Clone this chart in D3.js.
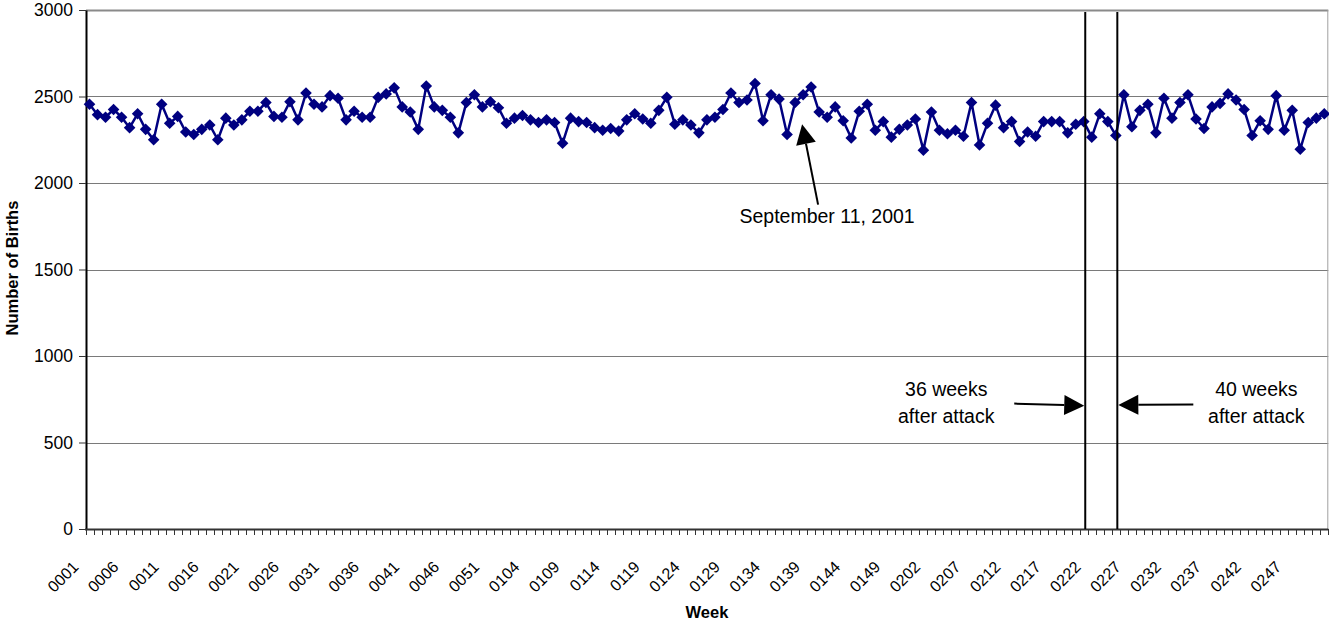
<!DOCTYPE html>
<html><head><meta charset="utf-8">
<script src="https://cdn.jsdelivr.net/npm/d3@7"></script>
<style>
body{margin:0;background:#fff}
svg{display:block}
text{font-family:"Liberation Sans",Arial,sans-serif;fill:#000}
</style>
</head><body><svg id="c" width="1329" height="624"></svg>
<script>
// ---- data ----
const years = ["00", "01", "02"];
const weeksPerYear = [52, 52, 51];
const weeks = [];
years.forEach((yr, k) => { for (let w = 1; w <= weeksPerYear[k]; w++) weeks.push(yr + String(w).padStart(2, "0")); });

const births = [
  2455,2395,2380,2425,2380,2320,2400,2310,2250,2455,
  2345,2385,2295,2280,2310,2335,2250,2375,2335,2365,
  2415,2415,2465,2385,2380,2470,2365,2520,2455,2440,
  2505,2490,2365,2415,2380,2380,2495,2515,2550,2440,
  2410,2310,2560,2440,2420,2380,2290,2465,2510,2440,
  2470,2435,2345,2375,2390,2365,2350,2365,2350,2230,
  2375,2355,2350,2320,2305,2315,2300,2365,2400,2370,
  2345,2420,2495,2340,2365,2335,2290,2365,2380,2425,
  2520,2465,2480,2575,2360,2510,2485,2280,2465,2510,
  2555,2410,2380,2440,2360,2260,2415,2455,2305,2355,
  2265,2310,2335,2370,2190,2410,2305,2285,2305,2270,
  2465,2220,2345,2450,2320,2355,2240,2295,2270,2355,
  2355,2355,2290,2340,2355,2265,2400,2355,2275,2510,
  2325,2420,2455,2290,2490,2375,2465,2510,2370,2315,
  2440,2460,2515,2480,2425,2275,2360,2310,2505,2305,
  2420,2195,2350,2375,2400
];

const yTicks = [0, 500, 1000, 1500, 2000, 2500, 3000];
const tickLabels = weeks.filter((d, i) => i % 5 === 0);
const markerWeeks = ["0221", "0225"];
const markerLabels = [["36 weeks", "after attack"], ["40 weeks", "after attack"]];
const attackWeek = "0137";
const attackLabel = "September 11, 2001";
const xTitle = "Week";
const yTitle = "Number of Births";

// ---- chart ----
const svg = d3.select("#c");
const pLeft = 85.5, pRight = 1328.3, pTop = 10, pBottom = 529;
const x = d3.scaleBand().domain(weeks).range([pLeft, pRight]).padding(0);
const cx = d => x(d) + x.bandwidth() / 2;
const y = d3.scaleLinear().domain([0, 3000]).range([pBottom, pTop]);
const navy = "#000080";

// gridlines
svg.append("g").selectAll("line").data(yTicks.filter(t => t > 0)).join("line")
  .attr("x1", 86).attr("x2", pRight)
  .attr("y1", d => Math.round(y(d)) + 0.5).attr("y2", d => Math.round(y(d)) + 0.5)
  .attr("stroke", d => d === 3000 ? "#8a8a8a" : "#7a7a7a")
  .attr("stroke-width", d => d === 3000 ? 2 : 1);
// right border
svg.append("line").attr("x1", pRight - 0.5).attr("x2", pRight - 0.5).attr("y1", pTop).attr("y2", pBottom)
  .attr("stroke", "#a0a0a0").attr("stroke-width", 1);

// y axis
const yAxis = svg.append("g").attr("transform", "translate(86,0)")
  .call(d3.axisLeft(y).tickValues(yTicks).tickSize(7).tickSizeOuter(0).tickPadding(6).tickFormat(d3.format("d")));
yAxis.select(".domain").attr("stroke", "#000").attr("stroke-width", 2);
yAxis.selectAll(".tick line").attr("stroke", "#333");
yAxis.selectAll(".tick text").attr("font-size", 17.5).attr("font-family", "Liberation Sans, Arial, sans-serif").attr("fill", "#222");

// x axis line and boundary ticks
svg.append("line").attr("x1", 85).attr("x2", pRight).attr("y1", pBottom + 0.5).attr("y2", pBottom + 0.5)
  .attr("stroke", "#333").attr("stroke-width", 2);
const bounds = weeks.map(d => x(d)).concat([pRight]);
svg.append("g").selectAll("line").data(bounds).join("line")
  .attr("x1", d => Math.round(d) + 0.5).attr("x2", d => Math.round(d) + 0.5)
  .attr("y1", pBottom).attr("y2", pBottom + 6)
  .attr("stroke", "#333").attr("stroke-width", 1);

// x tick labels
svg.append("g").selectAll("text").data(tickLabels).join("text")
  .attr("transform", d => `translate(${cx(d) - 10},${pBottom + 39}) rotate(-45)`)
  .attr("text-anchor", "end").attr("font-size", 16).attr("fill", "#222")
  .text(d => d);

// axis titles
svg.append("text").attr("x", 707).attr("y", 618).attr("text-anchor", "middle")
  .attr("font-size", 16.5).attr("font-weight", "bold").text(xTitle);
svg.append("text").attr("transform", "translate(18,268) rotate(-90)").attr("text-anchor", "middle")
  .attr("font-size", 16.5).attr("font-weight", "bold").text(yTitle);

// series line
const line = d3.line().x((d, i) => cx(weeks[i])).y(d => y(d));
svg.append("path").datum(births).attr("d", line)
  .attr("fill", "none").attr("stroke", navy).attr("stroke-width", 2.5).attr("stroke-linejoin", "round");
svg.append("g").selectAll("path").data(births).join("path")
  .attr("transform", (d, i) => `translate(${cx(weeks[i])},${y(d)})`)
  .attr("d", "M0,-5.8L5.8,0L0,5.8L-5.8,0Z").attr("fill", navy);

// vertical marker lines
const lineXs = markerWeeks.map(w => cx(w) + 1.5);
svg.append("g").selectAll("line").data(lineXs).join("line")
  .attr("x1", d => d).attr("x2", d => d).attr("y1", 12).attr("y2", pBottom)
  .attr("stroke", "#000").attr("stroke-width", 2);

// arrow helper
function arrow(x1, y1, x2, y2) {
  const dx = x2 - x1, dy = y2 - y1, L = Math.hypot(dx, dy);
  const ux = dx / L, uy = dy / L, hl = 20, hw = 10;
  const bx = x2 - ux * hl, by = y2 - uy * hl;
  svg.append("line").attr("x1", x1).attr("y1", y1).attr("x2", bx).attr("y2", by)
    .attr("stroke", "#000").attr("stroke-width", 2);
  svg.append("path").attr("d", `M${x2},${y2}L${bx - uy * hw},${by + ux * hw}L${bx + uy * hw},${by - ux * hw}Z`)
    .attr("fill", "#000");
}

// September 11 annotation
const ax = cx(attackWeek);
arrow(ax + 23, y(1875), ax + 7, y(2340));
svg.append("text").attr("x", ax + 32).attr("y", y(1770)).attr("text-anchor", "middle")
  .attr("font-size", 19.5).attr("fill", "#222").text(attackLabel);

// 36 / 40 weeks annotations
arrow(lineXs[0] - 71, y(725), lineXs[0] - 1, y(713));
arrow(lineXs[1] + 76, y(720), lineXs[1] + 1, y(717));
[[lineXs[0] - 139, markerLabels[0]], [lineXs[1] + 139, markerLabels[1]]].forEach(([tx, lbl]) => {
  svg.append("text").attr("x", tx).attr("y", y(770)).attr("text-anchor", "middle")
    .attr("font-size", 19.5).attr("fill", "#222").text(lbl[0]);
  svg.append("text").attr("x", tx).attr("y", y(615)).attr("text-anchor", "middle")
    .attr("font-size", 19.5).attr("fill", "#222").text(lbl[1]);
});
</script>
</body></html>
